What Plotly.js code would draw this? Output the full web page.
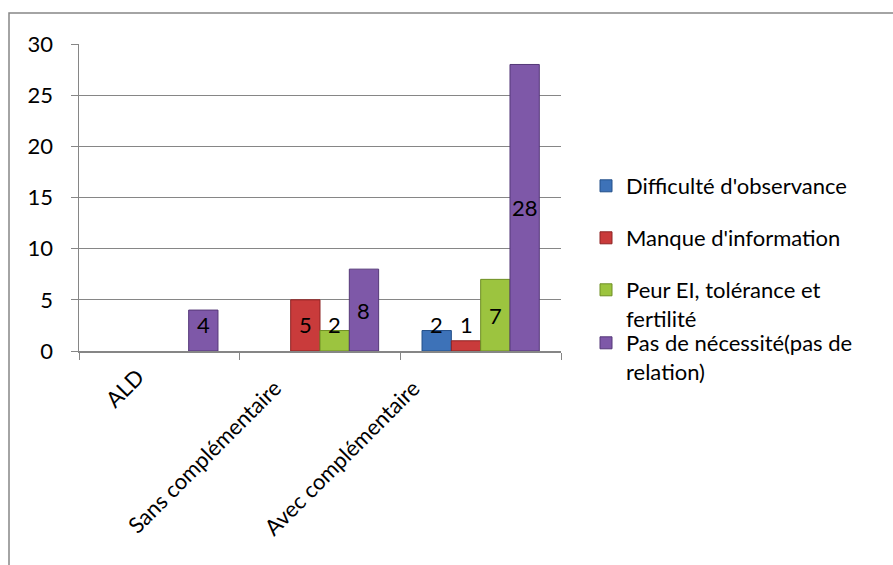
<!DOCTYPE html>
<html>
<head>
<meta charset="utf-8">
<script src="https://cdn.plot.ly/plotly-3.0.1.min.js"></script>
<style>html,body{margin:0;padding:0;background:#fff;}#chart{width:893px;height:565px;}</style>
</head>
<body>
<div id="chart"></div>
<script>
const categories = ['ALD', 'Sans complémentaire', 'Avec complémentaire'];
const seriesNames = ["Difficulté d'observance", "Manque d'information", "Peur EI, tolérance et<br>fertilité", "Pas de nécessité(pas de<br>relation)"];
const difficulte = [null, null, 2];
const manque = [null, 5, 1];
const peur = [null, 2, 7];
const necessite = [4, 8, 28];

const seriesValues = [difficulte, manque, peur, necessite];
const fills = ['#3d72b8', '#c93b3b', '#9cc43f', '#7e58a8'];
const edges = ['#24508a', '#8e2424', '#6f8f25', '#553878'];
const legendIds = ['legend', 'legend2', 'legend3', 'legend4'];
const legendTops = [186, 238, 290, 343];

const FONT = 'Lato, "Open Sans", sans-serif';
const BARGAP = 0.27;
const nSeries = seriesValues.length;
const slot = (1 - BARGAP) / nSeries;
const LABEL_MIN_Y = 2.55;   // Excel keeps small-bar labels above the axis
const xLabelShiftX = [-7, -31, -53];
const xLabelShiftY = [-9, -21, -21];

const traces = seriesValues.map((vals, i) => ({
  type: 'bar',
  name: seriesNames[i],
  x: categories,
  y: vals,
  marker: {color: fills[i], line: {color: edges[i], width: 1}},
  legend: legendIds[i],
  hoverinfo: 'skip'
}));

const annotations = [];
seriesValues.forEach((vals, i) => {
  vals.forEach((v, j) => {
    if (v === null) return;
    annotations.push({
      xref: 'x', yref: 'y',
      x: j + (i - (nSeries - 1) / 2) * slot,
      y: Math.max(v / 2, LABEL_MIN_Y),
      text: String(v), showarrow: false,
      xanchor: 'center', yanchor: 'middle',
      font: {family: FONT, size: 22, color: '#000'}
    });
  });
});
categories.forEach((c, j) => {
  annotations.push({
    xref: 'x', yref: 'y', x: j, y: 0,
    text: c, showarrow: false, textangle: -45,
    xanchor: 'right', yanchor: 'top',
    xshift: xLabelShiftX[j], yshift: xLabelShiftY[j],
    font: {family: FONT, size: 22, color: '#000'}
  });
});

const layout = {
  width: 893, height: 565,
  paper_bgcolor: '#fff', plot_bgcolor: '#fff',
  margin: {l: 79, r: 332, t: 44, b: 214},
  barmode: 'group', bargap: BARGAP, bargroupgap: 0,
  font: {family: FONT, size: 22, color: '#000'},
  xaxis: {
    type: 'category',
    tickson: 'boundaries',
    ticks: 'outside', ticklen: 7, tickcolor: '#868686', tickwidth: 1,
    showline: true, linecolor: '#868686', linewidth: 1.5,
    showgrid: false, showticklabels: false
  },
  yaxis: {
    range: [0, 30], dtick: 5, tick0: 0,
    ticks: 'outside', ticklen: 7, tickcolor: '#868686',
    showline: true, linecolor: '#868686', linewidth: 1.5,
    showgrid: true, gridcolor: '#868686', gridwidth: 1.2,
    zeroline: false, ticklabelstandoff: 13,
    tickfont: {family: FONT, size: 22, color: '#000'}
  },
  annotations: annotations,
  shapes: [{
    type: 'rect', xref: 'paper', yref: 'paper',
    x0: (9 - 79) / 482, x1: 1.8, y0: -1, y1: (351 - 13) / 307,
    line: {color: '#868686', width: 1.5}, fillcolor: 'rgba(0,0,0,0)', layer: 'below'
  }],
  showlegend: true
};

legendIds.forEach((id, i) => {
  layout[id] = {
    xref: 'container', yref: 'container',
    x: 586 / 893, y: 1 - (legendTops[i] - 21) / 565,
    xanchor: 'left', yanchor: 'top',
    valign: 'top',
    bgcolor: 'rgba(0,0,0,0)',
    font: {family: FONT, size: 22, color: '#000'}
  };
});

Plotly.newPlot('chart', traces, layout, {staticPlot: true, displayModeBar: false});
</script>
</body>
</html>
